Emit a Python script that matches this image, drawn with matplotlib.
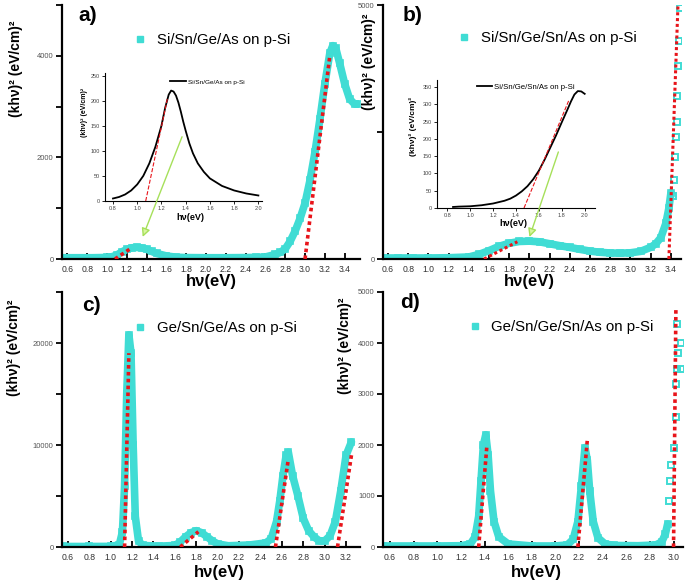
import matplotlib.pyplot as plt
from matplotlib.ticker import MultipleLocator, FixedLocator

plt.rcParams['font.family'] = ['Liberation Sans', 'DejaVu Sans']

W, H = 685, 582
CYAN = '#40dcd4'
RED = '#e8141a'
GREEN = '#a6e05a'

# a) Si/Sn/Ge/As on p-Si
a_x = [0.55, 0.7, 0.85, 1.0, 1.05, 1.1, 1.15, 1.2, 1.25, 1.3, 1.35, 1.4, 1.45, 1.5, 1.6, 1.7, 1.8, 2.0, 2.2, 2.4,
       2.5, 2.6, 2.7, 2.75, 2.8, 2.85, 2.9, 2.95, 3.0, 3.05, 3.1, 3.15, 3.2, 3.25, 3.28, 3.31, 3.35, 3.4, 3.45, 3.5, 3.53]
a_y = [25, 25, 25, 30, 45, 80, 140, 190, 220, 228, 218, 192, 150, 110, 60, 35, 28, 25, 25, 28,
       32, 40, 90, 130, 200, 350, 550, 800, 1100, 1550, 2100, 2750, 3450, 4050, 4200, 4150, 3850, 3450, 3150, 3050, 3050]
a_fits = [([1.08, 1.25], [0, 220]), ([3.0, 3.25], [0, 4000])]
a_in_x = [0.8, 0.85, 0.9, 0.95, 1.0, 1.05, 1.1, 1.15, 1.2, 1.23, 1.26, 1.28, 1.3, 1.32, 1.34, 1.36, 1.38, 1.4,
          1.43, 1.46, 1.5, 1.55, 1.6, 1.7, 1.8, 1.9, 2.0]
a_in_y = [5, 8, 13, 21, 33, 50, 75, 108, 150, 185, 212, 220, 218, 210, 196, 178, 158, 140,
          115, 95, 75, 58, 45, 30, 21, 15, 11]
a_in_fit = ([1.07, 1.25], [0, 205])

# b) Si/Sn/Ge/Sn/As on p-Si
b_x = [0.55, 0.7, 0.85, 1.0, 1.2, 1.4, 1.5, 1.6, 1.7, 1.8, 1.9, 2.0, 2.1, 2.2, 2.3, 2.4, 2.5, 2.6, 2.7, 2.8,
       2.9, 3.0, 3.1, 3.2, 3.25, 3.3, 3.35, 3.38, 3.4]
b_y = [20, 20, 20, 20, 25, 40, 90, 165, 250, 310, 345, 352, 338, 300, 262, 228, 190, 155, 132, 118,
       115, 122, 150, 230, 300, 420, 700, 1000, 1300]
b_tail_x = [3.42, 3.43, 3.44, 3.45, 3.46, 3.46, 3.47, 3.48, 3.49]
b_tail_y = [1250, 1550, 2000, 2400, 2700, 3200, 3800, 4300, 4950]
b_fits = [([1.55, 1.88], [0, 340]), ([3.38, 3.47], [0, 5000])]
b_in_x = [0.85, 0.9, 1.0, 1.1, 1.2, 1.3, 1.35, 1.4, 1.45, 1.5, 1.55, 1.6, 1.65, 1.7, 1.75, 1.8, 1.85, 1.88,
          1.91, 1.94, 1.97, 2.0]
b_in_y = [3, 4, 5, 8, 13, 21, 27, 36, 48, 63, 83, 108, 140, 175, 210, 248, 285, 308,
          328, 338, 337, 330]
b_in_fit = ([1.47, 1.86], [0, 310])

# c) Ge/Sn/Ge/As on p-Si
c_x = [0.55, 0.8, 1.0, 1.08, 1.11, 1.13, 1.15, 1.17, 1.19, 1.21, 1.23, 1.26, 1.3, 1.45, 1.6, 1.65, 1.7, 1.75, 1.8, 1.85,
       1.9, 1.95, 2.0, 2.1, 2.3, 2.45, 2.5, 2.55, 2.58, 2.61, 2.64, 2.66, 2.7, 2.75, 2.8, 2.85, 2.9, 2.95, 3.0, 3.05,
       3.1, 3.15, 3.2, 3.25]
c_y = [50, 50, 60, 200, 1500, 6000, 15000, 20800, 19000, 10000, 3000, 600, 150, 80, 150, 500, 1000, 1400, 1600, 1400,
       1000, 600, 300, 120, 200, 400, 800, 2500, 4500, 7000, 9000, 9300, 7000, 5000, 2800, 1600, 1000, 600, 600, 1100,
       2500, 5500, 9000, 10300]
c_fits = [([1.13, 1.17], [0, 19000]), ([1.65, 1.82], [0, 1500]), ([2.54, 2.66], [0, 8600]), ([3.12, 3.25], [0, 9000])]

# d) Ge/Sn/Ge/Sn/As on p-Si
d_x = [0.54, 0.8, 1.0, 1.2, 1.28, 1.32, 1.35, 1.37, 1.39, 1.41, 1.43, 1.45, 1.48, 1.52, 1.6, 1.8, 2.0, 2.1, 2.15, 2.19,
       2.22, 2.25, 2.27, 2.29, 2.32, 2.36, 2.42, 2.5, 2.7, 2.85, 2.9, 2.93, 2.95]
d_y = [20, 20, 20, 25, 60, 200, 600, 1300, 2000, 2200, 1800, 1100, 500, 200, 60, 20, 20, 40, 150, 500,
       1200, 1950, 1700, 1100, 500, 180, 60, 30, 25, 40, 100, 250, 450]
d_tail_x = [2.96, 2.97, 2.98, 3.0, 3.02, 3.02, 3.03, 3.06, 3.04, 3.06, 3.03]
d_tail_y = [900, 1300, 1600, 1950, 2550, 3200, 3500, 3500, 3800, 4000, 4380]
d_fits = [([1.35, 1.42], [0, 2000]), ([2.19, 2.27], [0, 2100]), ([3.0, 3.02], [0, 4700])]

ylabel = '(khν)² (eV/cm)²'
xlabel = 'hν(eV)'


def frame(l, t, r, b):
    return [l / W, 1 - b / H, (r - l) / W, (b - t) / H]


def style(ax, lw=1.6):
    for s in ['top', 'right']:
        ax.spines[s].set_visible(False)
    for s in ['left', 'bottom']:
        ax.spines[s].set_linewidth(lw)


def draw_main(ax, x, y, fits, label, leg_xy, xlim, ylim, yticks, yminor, tail=None, fit_lw=2.6):
    ax.plot(x, y, color=CYAN, lw=5.5, solid_capstyle='round', solid_joinstyle='round', zorder=2)
    ax.plot(x, y, 's', ms=4.5, mfc='none', mec=CYAN, mew=1.2, zorder=2)
    if tail is not None:
        ax.plot(tail[0], tail[1], 's', ms=4, mfc='none', mec=CYAN, mew=1.4, zorder=2)
    for fx, fy in fits:
        ax.plot(fx, fy, color=RED, lw=fit_lw, linestyle=(0, (1, 0.9)), zorder=3)
    ax.plot([], [], 's', ms=4.5, color=CYAN, label=label)
    ax.set_xlim(*xlim)
    ax.set_ylim(*ylim)
    ax.xaxis.set_major_locator(MultipleLocator(0.2))
    ax.yaxis.set_major_locator(FixedLocator(yticks))
    ax.yaxis.set_minor_locator(FixedLocator(yminor))
    style(ax)
    ax.tick_params(axis='x', direction='in', length=4, width=1.3, labelsize=6.2, pad=4, labelcolor='#333')
    ax.tick_params(axis='y', which='both', direction='out', length=4, width=1.3, labelsize=5.5, pad=2,
                   labelcolor='#555')
    ax.legend(loc='center left', bbox_to_anchor=leg_xy, frameon=False, fontsize=10.8, numpoints=1,
              handlelength=1.0, handletextpad=0.6, borderpad=0, borderaxespad=0)


def draw_inset(rect, x, y, fit, label, xlim, ylim, leg_xy, leg_fs, handlelength):
    ins = fig.add_axes(frame(*rect))
    ins.plot(x, y, color='black', lw=1.3, label=label)
    ins.plot(fit[0], fit[1], color=RED, lw=0.8, linestyle='--')
    ins.set_xlim(*xlim)
    ins.set_ylim(*ylim)
    ins.xaxis.set_major_locator(MultipleLocator(0.2))
    ins.yaxis.set_major_locator(MultipleLocator(50))
    style(ins, lw=0.8)
    ins.tick_params(labelsize=4, length=2, width=0.6, pad=1.5, labelcolor='#444')
    ins.legend(loc='center left', bbox_to_anchor=leg_xy, frameon=False, fontsize=leg_fs,
               handlelength=handlelength, handletextpad=0.3, borderpad=0, borderaxespad=0)
    return ins


fig = plt.figure(figsize=(W / 100, H / 100), dpi=100)

ax_a = fig.add_axes(frame(62, 5, 360, 259))
ax_b = fig.add_axes(frame(383, 5, 681, 259))
ax_c = fig.add_axes(frame(62, 292, 360, 547))
ax_d = fig.add_axes(frame(383, 292, 683, 547))

draw_main(ax_a, a_x, a_y, a_fits, 'Si/Sn/Ge/As on p-Si', (0.237, 0.862), (0.545, 3.555), (0, 5000),
          [0, 2000, 4000], [1000, 3000, 5000])
draw_main(ax_b, b_x, b_y, b_fits, 'Si/Sn/Ge/Sn/As on p-Si', (0.248, 0.87), (0.55, 3.5), (0, 5000),
          [0, 5000], [2500], tail=(b_tail_x, b_tail_y), fit_lw=2.2)
draw_main(ax_c, c_x, c_y, c_fits, 'Ge/Sn/Ge/As on p-Si', (0.237, 0.859), (0.545, 3.33), (0, 25000),
          [0, 10000, 20000], [5000, 15000, 25000])
draw_main(ax_d, d_x, d_y, d_fits, 'Ge/Sn/Ge/Sn/As on p-Si', (0.28, 0.863), (0.54, 3.08), (0, 5000),
          [0, 1000, 2000, 3000, 4000, 5000], [], tail=(d_tail_x, d_tail_y))

for ax, tag, pos in [(ax_a, 'a)', (0.054, 0.957)), (ax_b, 'b)', (0.067, 0.957)),
                     (ax_c, 'c)', (0.067, 0.949)), (ax_d, 'd)', (0.057, 0.957))]:
    ax.text(pos[0], pos[1], tag, transform=ax.transAxes, fontsize=15, fontweight='bold', va='center')

ins_a = draw_inset((105, 73, 262, 201), a_in_x, a_in_y, a_in_fit, 'Si/Sn/Ge/As on p-Si',
                   (0.734, 2.03), (0, 255), (0.414, 0.93), 4.6, 2.5)
ins_b = draw_inset((437, 80, 595, 208), b_in_x, b_in_y, b_in_fit, 'Si/Sn/Ge/Sn/As on p-Si',
                   (0.71, 2.09), (0, 370), (0.253, 0.945), 5.6, 1.9)

arrow = dict(arrowstyle='-|>,head_length=0.5,head_width=0.25', color=GREEN, lw=1.0,
             shrinkA=0, shrinkB=0, fc='#d8f5a0')
ins_a.annotate('', xy=(1.36, 435), xycoords=ax_a.transData, xytext=(1.37, 128), textcoords='data',
               arrowprops=arrow)
ins_b.annotate('', xy=(2.0, 433), xycoords=ax_b.transData, xytext=(1.77, 162), textcoords='data',
               arrowprops=arrow)

# axis titles placed in pixel positions
for x, y in [(16, 69), (369, 62), (14, 348), (345, 346)]:
    fig.text(x / W, 1 - y / H, ylabel, rotation=90, ha='center', va='center', fontsize=10, fontweight='bold')
for x, y in [(211, 281), (529, 281), (219, 572), (536, 572)]:
    fig.text(x / W, 1 - y / H, xlabel, ha='center', va='center', fontsize=12, fontweight='bold')
fig.text(84 / W, 1 - 112 / H, ylabel, rotation=90, ha='center', va='center', fontsize=5, fontweight='bold')
fig.text(413 / W, 1 - 126 / H, ylabel, rotation=90, ha='center', va='center', fontsize=6, fontweight='bold')
fig.text(190 / W, 1 - 218 / H, xlabel, ha='center', va='center', fontsize=6.5, fontweight='bold')
fig.text(513 / W, 1 - 223 / H, xlabel, ha='center', va='center', fontsize=6.5, fontweight='bold')

plt.savefig('out.png', dpi=100)
